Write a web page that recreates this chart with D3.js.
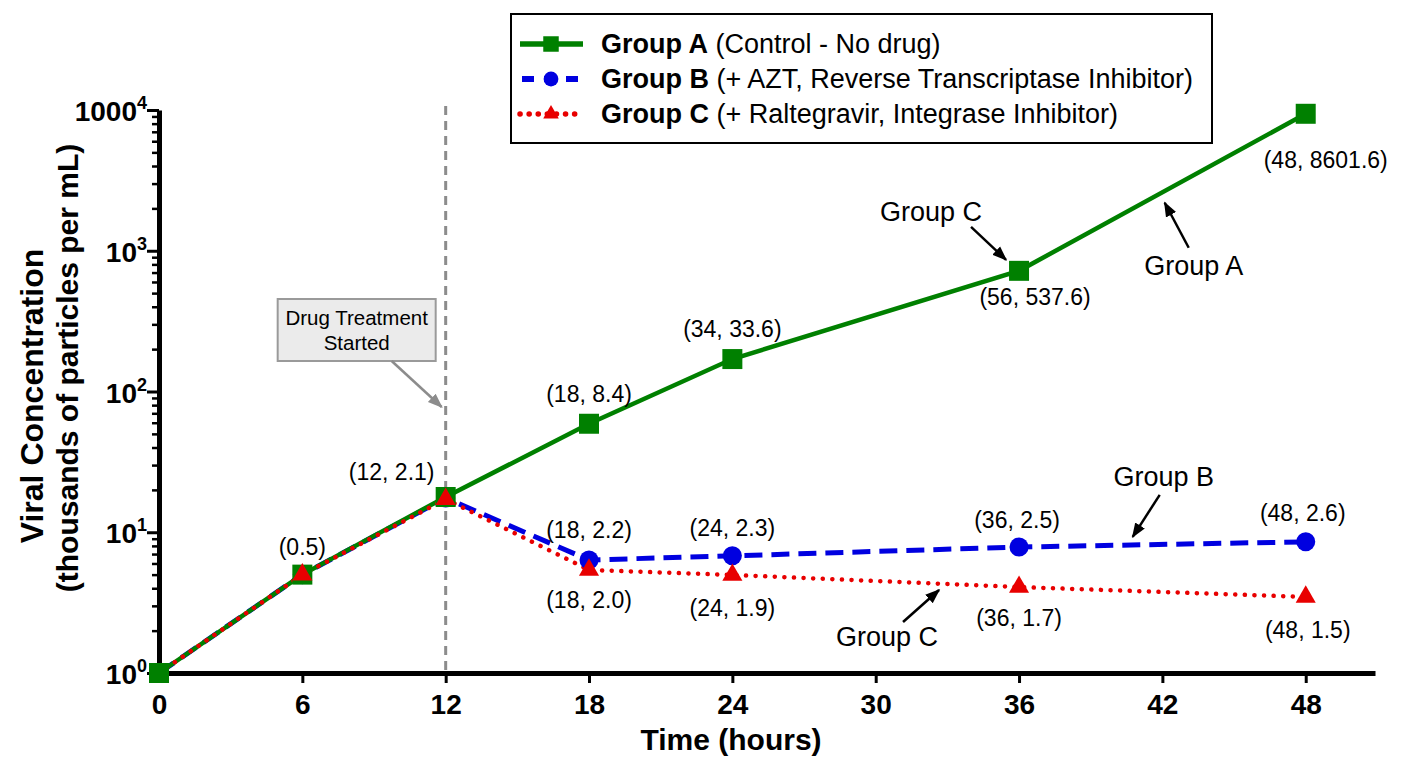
<!DOCTYPE html>
<html>
<head>
<meta charset="utf-8">
<script src="https://cdn.jsdelivr.net/npm/d3@7"></script>
<style>
body{margin:0;background:#fff;}
svg{display:block;font-family:"Liberation Sans",Arial,Helvetica,sans-serif;}
</style>
</head>
<body>
<div id="chart"></div>
<script>
// values
var hours = [0, 6, 12, 18, 24, 36, 48];
var groupA = [1, 5, 17.8, 59, 170, 720, 9400];
var groupB = [1, 5, 17.5, 6.35, 6.8, 7.85, 8.55];
var groupC = [1, 5, 17.2, 5.4, 4.97, 4.08, 3.47];

// point labels as printed on the chart
var labelsA = ["", "(0.5)", "(12, 2.1)", "(18, 8.4)", "(34, 33.6)", "(56, 537.6)", "(48, 8601.6)"];
var labelsB = ["", "", "", "(18, 2.2)", "(24, 2.3)", "(36, 2.5)", "(48, 2.6)"];
var labelsC = ["", "", "", "(18, 2.0)", "(24, 1.9)", "(36, 1.7)", "(48, 1.5)"];

var xTicks = [0, 6, 12, 18, 24, 30, 36, 42, 48];
var yTicks = [1, 10, 100, 1000, 10000];
var yTickBase = ["10", "10", "10", "10", "1000"];
var yTickExp = ["0", "1", "2", "3", "4"];

var legendNames = ["Group A", "Group B", "Group C"];
var legendNotes = [" (Control - No drug)", " (+ AZT, Reverse Transcriptase Inhibitor)", " (+ Raltegravir, Integrase Inhibitor)"];
var drugStart = 12;

var W = 1408, H = 768;
var x = d3.scaleLinear().domain([0, 50.9]).range([159, 1375]);
var y = d3.scaleLog().domain([1, 10000]).range([673, 110]);

var green = "#008000", blue = "#0000e0", red = "#e80000";

var svg = d3.select("#chart").append("svg")
    .attr("width", W)
    .attr("height", H);

// arrow heads
var defs = svg.append("defs");
[["arrowBlack", "#000"], ["arrowGray", "#8c8c8c"]].forEach(function(m){
    defs.append("marker")
        .attr("id", m[0])
        .attr("viewBox", "0 0 10 10")
        .attr("refX", 9).attr("refY", 5)
        .attr("markerUnits", "userSpaceOnUse")
        .attr("markerWidth", 15).attr("markerHeight", 15)
        .attr("orient", "auto")
        .append("path")
        .attr("d", "M0,1.2L10,5L0,8.8Z")
        .attr("fill", m[1]);
});

// drug start line
svg.append("line")
    .attr("x1", x(drugStart)).attr("x2", x(drugStart))
    .attr("y1", y(10000) - 4).attr("y2", y(1))
    .attr("stroke", "#8c8c8c")
    .attr("stroke-width", 3)
    .attr("stroke-dasharray", "9,6");

// axes
var xAxis = d3.axisBottom(x).tickValues(xTicks).tickSize(10).tickSizeOuter(0).tickPadding(11);
var gx = svg.append("g").attr("class", "axis axis-x")
    .attr("transform", "translate(0," + y(1) + ")")
    .call(xAxis);
gx.select(".domain").attr("stroke-width", 5);
gx.selectAll(".tick line").attr("stroke-width", 3);
gx.selectAll(".tick text")
    .attr("font-family", "Liberation Sans, Arial, sans-serif")
    .attr("font-size", 28).attr("font-weight", "bold").attr("fill", "#000");

var minorTicks = [];
yTicks.slice(0, 4).forEach(function(d){
    for (var k = 2; k < 10; k++) minorTicks.push(d * k);
});

var gyMinor = svg.append("g").attr("class", "axis axis-y-minor")
    .attr("transform", "translate(" + x(0) + ",0)")
    .call(d3.axisLeft(y).tickValues(minorTicks).tickSize(7).tickSizeOuter(0).tickFormat(""));
gyMinor.select(".domain").remove();
gyMinor.selectAll(".tick line").attr("stroke-width", 2.5);

var gy = svg.append("g").attr("class", "axis axis-y")
    .attr("transform", "translate(" + x(0) + ",0)")
    .call(d3.axisLeft(y).tickValues(yTicks).tickSize(12).tickSizeOuter(0).tickFormat(""));
gy.select(".domain").attr("stroke-width", 5);
gy.selectAll(".tick line").attr("stroke-width", 3);

var yLab = svg.append("g").attr("class", "ylabels")
    .selectAll("text")
    .data(yTicks)
    .enter()
    .append("text")
    .attr("x", x(0) - 12)
    .attr("y", function(d){ return y(d) + 11; })
    .attr("text-anchor", "end")
    .attr("font-weight", "bold");
yLab.append("tspan").attr("font-size", 28).text(function(d, i){ return yTickBase[i]; });
yLab.append("tspan").attr("font-size", 18).attr("dy", -12).text(function(d, i){ return yTickExp[i]; });

// axis titles
svg.append("text")
    .attr("x", 731).attr("y", 750)
    .attr("text-anchor", "middle")
    .attr("font-size", 30).attr("font-weight", "bold")
    .text("Time (hours)");
svg.append("text")
    .attr("transform", "translate(43,396) rotate(-90)")
    .attr("text-anchor", "middle")
    .attr("font-size", 32).attr("font-weight", "bold")
    .text("Viral Concentration");
svg.append("text")
    .attr("transform", "translate(78,368) rotate(-90)")
    .attr("text-anchor", "middle")
    .attr("font-size", 30).attr("font-weight", "bold")
    .text("(thousands of particles per mL)");

// lines
var series = [
    {name: "B", values: groupB, color: blue, width: 5, dash: "18,9", cap: "butt", symbol: d3.symbolCircle, size: 285},
    {name: "A", values: groupA, color: green, width: 4.5, dash: null, cap: "butt", symbol: d3.symbolSquare, size: 400},
    {name: "C", values: groupC, color: red, width: 4.5, dash: "0.1,9.5", cap: "round", symbol: d3.symbolTriangle, size: 175}
];

var line = d3.line()
    .x(function(d, i){ return x(hours[i]); })
    .y(function(d){ return y(d); });

var plotLines = svg.append("g").attr("class", "lines");
series.forEach(function(s){
    plotLines.append("path")
        .datum(s.values)
        .attr("d", line)
        .attr("fill", "none")
        .attr("stroke", s.color)
        .attr("stroke-width", s.width)
        .attr("stroke-linecap", s.cap)
        .attr("stroke-dasharray", s.dash);
});

// markers (B and C share the first point with A, only A's square is shown there)
var plotMarks = svg.append("g").attr("class", "marks");
series.forEach(function(s){
    plotMarks.selectAll(".m" + s.name)
        .data(s.values.map(function(v, i){ return {h: hours[i], v: v}; })
            .filter(function(d){ return s.name == "A" || d.h > 0; }))
        .enter()
        .append("path")
        .attr("class", "m" + s.name)
        .attr("transform", function(d){ return "translate(" + x(d.h) + "," + y(d.v) + ")"; })
        .attr("d", d3.symbol().type(s.symbol).size(s.size))
        .attr("fill", s.color);
});

// point labels, offsets in pixels from the point
var offA = [[0,0],[0,-28],[-54,-25],[0,-30],[0,-30],[16,26],[20,46]];
var offB = [[0,0],[0,0],[0,0],[0,-30],[0,-28],[-2,-27],[-3,-29]];
var offC = [[0,0],[0,0],[0,0],[0,30],[0,33],[0,31],[2,33]];
var plotLabels = svg.append("g").attr("class", "pointLabels");
[[groupA, labelsA, offA], [groupB, labelsB, offB], [groupC, labelsC, offC]].forEach(function(g){
    var pts = g[0].map(function(v, i){ return {h: hours[i], v: v, label: g[1][i], off: g[2][i]}; })
        .filter(function(d){ return d.label != ""; });
    plotLabels.append("g")
        .selectAll("text")
        .data(pts)
        .enter()
        .append("text")
        .attr("x", function(d){ return x(d.h) + d.off[0]; })
        .attr("y", function(d){ return y(d.v) + d.off[1]; })
        .attr("dy", "0.35em")
        .attr("text-anchor", "middle")
        .attr("font-size", 23)
        .text(function(d){ return d.label; });
});

// call-outs: arrow head, arrow tail and text centre relative to a data point
var notes = [
    {text: "Group C", vals: groupA, i: 5, head: [-13, -11], tail: [-48, -44], label: [-88, -59]},
    {text: "Group A", vals: groupA, i: 6, head: [-141, 89], tail: [-117, 134], label: [-112, 152]},
    {text: "Group B", vals: groupB, i: 6, head: [-173, -5], tail: [-146, -47], label: [-142, -65]},
    {text: "Group C", vals: groupC, i: 5, head: [-80, 3], tail: [-116, 35], label: [-132, 50]}
];
var plotNotes = svg.append("g").attr("class", "notes");
notes.forEach(function(n){
    var px = x(hours[n.i]), py = y(n.vals[n.i]);
    plotNotes.append("line")
        .attr("x1", px + n.tail[0]).attr("y1", py + n.tail[1])
        .attr("x2", px + n.head[0]).attr("y2", py + n.head[1])
        .attr("stroke", "#000").attr("stroke-width", 2.5)
        .attr("marker-end", "url(#arrowBlack)");
    plotNotes.append("text")
        .attr("x", px + n.label[0]).attr("y", py + n.label[1])
        .attr("dy", "0.35em")
        .attr("text-anchor", "middle")
        .attr("font-size", 27)
        .text(n.text);
});

// drug treatment box
var drug = svg.append("g").attr("class", "drugNote");
drug.append("rect")
    .attr("x", x(drugStart) - 168).attr("y", 299)
    .attr("width", 158).attr("height", 62)
    .attr("fill", "#ebebeb").attr("stroke", "#9a9a9a").attr("stroke-width", 2);
drug.append("text").attr("x", x(drugStart) - 89).attr("y", 325)
    .attr("text-anchor", "middle").attr("font-size", 20.5).text("Drug Treatment");
drug.append("text").attr("x", x(drugStart) - 89).attr("y", 350)
    .attr("text-anchor", "middle").attr("font-size", 20.5).text("Started");
drug.append("line")
    .attr("x1", x(drugStart) - 54).attr("y1", 361)
    .attr("x2", x(drugStart) - 4).attr("y2", 407)
    .attr("stroke", "#8c8c8c").attr("stroke-width", 2.5)
    .attr("marker-end", "url(#arrowGray)");

// legend
var legend = svg.append("g").attr("class", "legend");
legend.append("rect")
    .attr("x", 511).attr("y", 14).attr("width", 701).attr("height", 129)
    .attr("fill", "#fff").attr("stroke", "#000").attr("stroke-width", 2);
var legendSeries = [series[1], series[0], series[2]];
legendSeries.forEach(function(s, i){
    var ly = 44 + i * 35;
    legend.append("line")
        .attr("x1", 520).attr("x2", 583)
        .attr("y1", ly).attr("y2", ly)
        .attr("stroke", s.color)
        .attr("stroke-width", s.width + 1)
        .attr("stroke-linecap", s.cap)
        .attr("stroke-dasharray", s.name == "B" ? "12,10" : (s.name == "C" ? "0.1,9" : null))
        .attr("stroke-dashoffset", s.name == "B" ? -2 : 0);
    legend.append("path")
        .attr("transform", "translate(551," + ly + ")")
        .attr("d", d3.symbol().type(s.symbol).size(s.size * 0.6))
        .attr("fill", s.color);
    var t = legend.append("text")
        .attr("x", 601).attr("y", ly + 9)
        .attr("font-size", 27);
    t.append("tspan").attr("font-weight", "bold").text(legendNames[i]);
    t.append("tspan").text(legendNotes[i]);
});
</script>
</body>
</html>
